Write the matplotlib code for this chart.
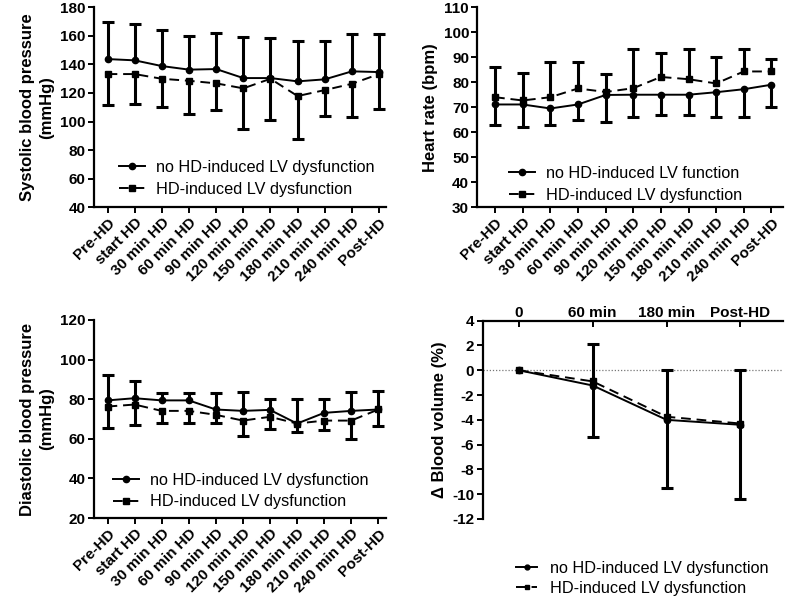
import matplotlib
matplotlib.use("Agg")
import matplotlib.pyplot as plt
from matplotlib.lines import Line2D
import numpy as np

plt.rcParams['font.family'] = ['Liberation Sans', 'DejaVu Sans']
plt.rcParams['axes.unicode_minus'] = False

# ---------------- data ----------------
time_labels = ["Pre-HD", "start HD", "30 min HD", "60 min HD", "90 min HD", "120 min HD",
               "150 min HD", "180 min HD", "210 min HD", "240 min HD", "Post-HD"]

sbp_no_mean = [143.7, 142.8, 138.8, 136.3, 136.7, 130.4, 130.4, 128.1, 129.5, 135.1, 134.6]
sbp_no_sd   = [26.0, 25.3, 25.1, 23.6, 25.3, 28.5, 27.8, 28.3, 27.1, 26.4, 26.7]
sbp_lv_mean = [133.2, 133.2, 129.9, 128.5, 126.7, 123.2, 129.9, 117.8, 122.0, 126.4, 133.2]
sbp_lv_sd   = [21.7, 20.8, 19.8, 23.4, 18.5, 28.1, 29.0, 30.2, 18.0, 23.1, 24.3]

hr_no_mean = [71.1, 71.1, 69.5, 71.1, 74.9, 75.0, 75.0, 75.0, 76.0, 77.2, 79.0]
hr_no_sd   = [8.3, 9.2, 6.7, 6.3, 10.9, 9.0, 8.2, 8.2, 10.0, 11.2, 9.0]
hr_lv_mean = [74.0, 72.7, 74.0, 77.5, 76.1, 77.6, 82.1, 81.2, 79.5, 84.3, 84.3]
hr_lv_sd   = [12.1, 10.9, 14.1, 10.6, 7.0, 15.6, 9.6, 12.0, 10.6, 8.9, 4.9]

dbp_no_mean = [79.4, 80.5, 79.4, 79.4, 74.8, 74.1, 74.6, 67.7, 73.1, 74.1, 74.8]
dbp_no_sd   = [12.9, 8.8, 3.8, 3.8, 8.4, 9.3, 5.6, 12.5, 7.1, 9.3, 9.4]
dbp_lv_mean = [76.3, 77.3, 74.1, 74.1, 72.1, 69.2, 71.1, 67.7, 69.2, 69.2, 74.8]
dbp_lv_sd   = [10.9, 10.3, 6.0, 6.0, 4.0, 7.7, 6.1, 4.5, 4.9, 9.1, 8.4]

bv_labels  = ["0", "60 min", "180 min", "Post-HD"]
bv_no_mean = [0.0, -1.23, -4.0, -4.4]
bv_no_sd   = [0.0, 4.17, 5.5, 6.0]
bv_lv_mean = [0.0, -0.9, -3.75, -4.3]
bv_lv_sd   = [0.0, 3.0, 3.8, 4.35]

label_no = "no HD-induced LV dysfunction"
label_no_hr = "no HD-induced LV function"
label_lv = "HD-induced LV dysfunction"

# ---------------- style ----------------
LW = 1.4
ELW = 2.2
DASH = (0, (5, 3))
MS = 4.5
TICK_FS = 11
LAB_FS = 12
LEG_FS = 11.7

fig = plt.figure(figsize=(7.86, 5.99), dpi=100)


def half_err(ax, x, mean, sd, direction):
    x = np.asarray(x, float)
    mean = np.asarray(mean, float)
    sd = np.asarray(sd, float)
    keep = sd > 0
    x, mean, sd = x[keep], mean[keep], sd[keep]
    end = mean + direction * sd
    ax.vlines(x, mean, end, colors='black', linewidth=ELW, zorder=2)
    ax.plot(x, end, linestyle='none', marker='_', markersize=8, mew=ELW, color='black', zorder=2)


def style_axes(ax):
    for s in ['right', 'top']:
        ax.spines[s].set_visible(False)
    for s in ['left', 'bottom']:
        ax.spines[s].set_linewidth(1.6)
    ax.tick_params(direction='out', length=4, width=1.4, labelsize=TICK_FS, pad=2)
    for lab in ax.get_yticklabels() + ax.get_xticklabels():
        lab.set_fontweight('bold')


def time_panel(rect, no_mean, no_sd, no_dir, lv_mean, lv_sd, lv_dir, ylim, yticks, ylabel,
               xlim, legend_anchor, no_label):
    ax = fig.add_axes(rect)
    x = np.arange(len(time_labels))
    half_err(ax, x, no_mean, no_sd, no_dir)
    half_err(ax, x, lv_mean, lv_sd, lv_dir)
    ax.plot(x, no_mean, color='black', lw=LW, marker='o', ms=MS, zorder=3)
    ax.plot(x, lv_mean, color='black', lw=LW, linestyle=DASH, marker='s', ms=MS, zorder=3)
    ax.set_xlim(*xlim)
    ax.set_ylim(*ylim)
    ax.set_yticks(yticks)
    ax.set_xticks(x)
    ax.set_xticklabels(time_labels, rotation=45, ha='right', rotation_mode='anchor')
    ax.set_ylabel(ylabel, fontsize=LAB_FS, fontweight='bold', labelpad=4, linespacing=1.35)
    style_axes(ax)
    handles = [Line2D([], [], color='black', lw=LW, marker='o', ms=MS),
               Line2D([], [], color='black', lw=LW, linestyle=DASH, marker='s', ms=MS)]
    ax.legend(handles, [no_label, label_lv], loc='lower left', bbox_to_anchor=legend_anchor,
              frameon=False, fontsize=LEG_FS, handlelength=1.6, labelspacing=0.42,
              handletextpad=0.7)
    return ax


time_panel([0.1196, 0.654, 0.372, 0.334], sbp_no_mean, sbp_no_sd, +1, sbp_lv_mean, sbp_lv_sd, -1,
           (40, 180), np.arange(40, 181, 20), "Systolic blood pressure\n(mmHg)",
           (-0.5, 10.27), (0.035, -0.02), label_no)

time_panel([0.6073, 0.654, 0.389, 0.334], hr_no_mean, hr_no_sd, -1, hr_lv_mean, hr_lv_sd, +1,
           (30, 110), np.arange(30, 111, 10), "Heart rate (bpm)",
           (-0.64, 10.42), (0.055, -0.05), label_no_hr)

time_panel([0.1196, 0.1352, 0.372, 0.3306], dbp_no_mean, dbp_no_sd, +1, dbp_lv_mean, dbp_lv_sd, -1,
           (20, 120), np.arange(20, 121, 20), "Diastolic blood pressure\n(mmHg)",
           (-0.5, 10.3), (0.015, -0.03), label_no)

# ---------------- blood volume panel ----------------
ax4 = fig.add_axes([0.6141, 0.1336, 0.3825, 0.331])
xb = np.arange(len(bv_labels))
ax4.axhline(0, color='#777777', lw=0.9, linestyle=(0, (1, 1.5)), zorder=1)
half_err(ax4, xb, bv_no_mean, bv_no_sd, -1)
half_err(ax4, xb, bv_lv_mean, bv_lv_sd, +1)
ax4.plot(xb, bv_no_mean, color='black', lw=LW, marker='o', ms=MS, zorder=3)
ax4.plot(xb, bv_lv_mean, color='black', lw=LW, linestyle=DASH, marker='s', ms=MS, zorder=3)
ax4.set_xlim(-0.49, 3.58)
ax4.set_ylim(-12, 4)
ax4.set_yticks(np.arange(-12, 5, 2))
ax4.set_xticks(xb)
ax4.set_xticklabels(bv_labels)
ax4.xaxis.set_ticks_position('top')
ax4.xaxis.set_label_position('top')
for s in ['right', 'bottom']:
    ax4.spines[s].set_visible(False)
for s in ['left', 'top']:
    ax4.spines[s].set_linewidth(1.6)
ax4.tick_params(axis='y', direction='out', length=4, width=1.4, labelsize=TICK_FS, pad=2)
ax4.tick_params(axis='x', direction='in', length=4, width=1.4, labelsize=TICK_FS, pad=0.5)
for lab in ax4.get_yticklabels() + ax4.get_xticklabels():
    lab.set_fontweight('bold')
ax4.set_ylabel("\u0394 Blood volume (%)", fontsize=LAB_FS, fontweight='bold', labelpad=4)

handles = [Line2D([], [], color='black', lw=LW, marker='o', ms=3.5),
           Line2D([], [], color='black', lw=LW, linestyle=DASH, marker='s', ms=3.5)]
fig.legend(handles, [label_no, label_lv], loc='upper left', bbox_to_anchor=(0.638, 0.088),
           frameon=False, fontsize=LEG_FS, handlelength=1.3, labelspacing=0.3, handletextpad=0.8)

fig.savefig("out.png", dpi=100)
